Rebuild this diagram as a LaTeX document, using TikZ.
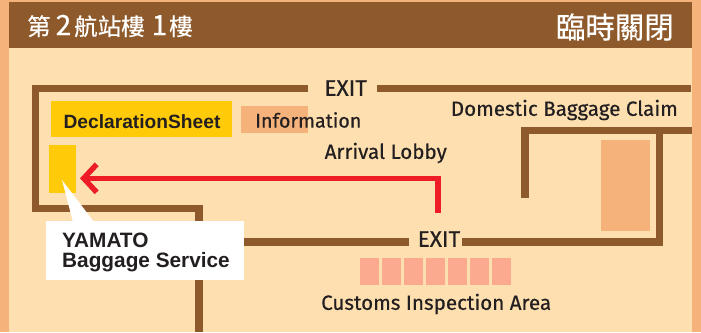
\documentclass[tikz,border=0pt]{standalone}
\usepackage{fontspec}
\setmainfont[FakeBold=0.5]{Fira Sans}
\newfontfamily\cjkfont[FakeBold=0.5]{Noto Sans CJK TC}
\newfontfamily\squarefont{Liberation Sans}
\usetikzlibrary{arrows.meta, positioning, calc}

\definecolor{wallbrown}{HTML}{8F5A2B}
\definecolor{panelbg}{HTML}{FEE0B0}
\definecolor{outerbg}{HTML}{F5B27A}
\definecolor{signyellow}{HTML}{FFCB08}
\definecolor{deskpink}{HTML}{FBA98F}
\definecolor{routered}{HTML}{EE1C25}
\definecolor{inkdark}{HTML}{231F20}

\newcommand{\headdigit}[1]{{\fontsize{28}{28}\selectfont #1}}

\begin{document}
\begin{tikzpicture}[
    x=1pt,
    y=-1pt,
    wall/.style={draw=wallbrown, line width=7.6pt, line cap=butt, miter limit=10},
    route/.style={draw=routered, line width=5.4pt},
    block/.style={rectangle, inner sep=0pt, outer sep=0pt},
    label/.style={inner sep=0pt, text=inkdark, font=\fontsize{20.6}{20.6}\selectfont},
    exitlabel/.style={label, font=\fontsize{22.5}{22.5}\selectfont},
    head/.style={inner sep=0pt, text=white, font=\cjkfont\fontsize{23.5}{23.5}\selectfont},
]
    \useasboundingbox (0,0) rectangle (701,332);

    % background
    \fill[outerbg] (0,0) rectangle (701,332);
    \fill[panelbg] (9,2) rectangle (692,332);
    \fill[wallbrown] (9,2) rectangle (692,48);

    \node[head, anchor=west] (floor) at (27,26) {第\hspace{5pt}\headdigit{2}\hspace{3pt}航站樓\hspace{7pt}\headdigit{1}\hspace{2pt}樓};
    \node[head, anchor=east, font=\cjkfont\fontsize{29.5}{29.5}\selectfont] (closed) at (674,27) {臨時關閉};

    % areas
    \node[block, fill=outerbg, minimum width=67pt, minimum height=27pt] (info) at (274.5,119.5) {};
    \node[block, fill=signyellow, minimum width=181pt, minimum height=36pt] (sheet) at (141.5,119) {};
    \node[block, fill=signyellow, minimum width=27pt, minimum height=48pt] (counter) at (62.5,169) {};
    \node[block, fill=outerbg, minimum width=49pt, minimum height=91pt] (belt) at (625.5,185.5) {};

    \foreach \i in {0,...,6} {
        \node[block, fill=deskpink, minimum width=19pt, minimum height=27pt] (desk\i) at (369.5+22*\i,271.5) {};
    }

    % walls
    \coordinate (topleft) at (308,88.5);
    \coordinate (topright) at (377,88.5);
    \coordinate (lowleft) at (409,242);
    \coordinate (lowright) at (462,242);

    \draw[wall] (topleft) -- (35.3,88.5) -- (35.3,208.4) -- (198.8,208.4) -- (198.8,332);
    \draw[wall] (topright) -- (691,88.5);
    \draw[wall] (lowleft) -- (230,242);
    \draw[wall] (lowright) -- (659.4,242) -- (659.4,130.5);
    \draw[wall] (525,198) -- (525,130.5) -- (692,130.5);

    % route
    \coordinate (start) at (438,213);
    \coordinate (tip) at (80,178.3);
    \draw[route, -{Straight Barb[length=13pt, width=28pt]}] (start) |- (tip);

    % callout
    \coordinate (pointer) at (62,180);
    \fill[white] (pointer) -- (94,222) -- (73,222) -- cycle;
    \node[block, fill=white, minimum width=198pt, minimum height=59pt] (callout) at (145,250.5) {};
    \node[label, anchor=west, font=\squarefont\bfseries\fontsize{20.8}{20.8}\selectfont] (yamato) at (62,240) {YAMATO};
    \node[label, anchor=west, font=\squarefont\bfseries\fontsize{20.8}{20.8}\selectfont] (service) at (62,262.5) {Baggage Service};

    % labels
    \node[exitlabel] (exittop) at (345.7,88) {EXIT};
    \node[exitlabel] (exitlow) at (439,239) {EXIT};
    \node[label, anchor=west, font=\fontsize{19.7}{19.7}\selectfont] (infotext) at (255,120) {Information};
    \node[label, font=\squarefont\bfseries\fontsize{19.2}{19.2}\selectfont] (sheettext) at (142,121.5) {DeclarationSheet};
    \node[label, anchor=east] (domestic) at (678,110) {Domestic Baggage Claim};
    \node[label, anchor=east] (lobby) at (447,153) {Arrival Lobby};
    \node[label, anchor=west] (customs) at (321,304) {Customs Inspection Area};
\end{tikzpicture}
\end{document}
